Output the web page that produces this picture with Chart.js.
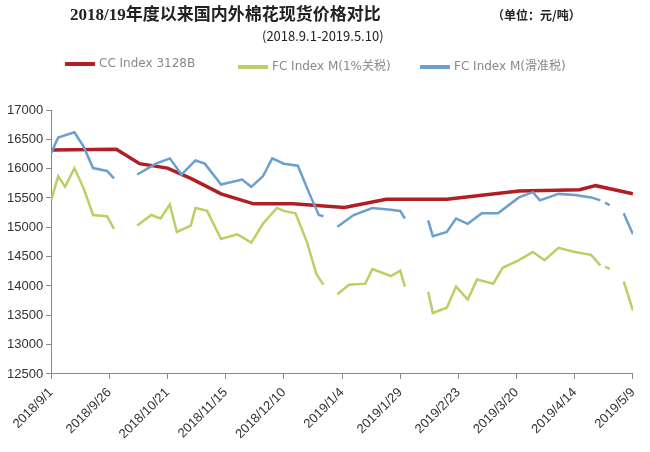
<!DOCTYPE html>
<html>
<head>
<meta charset="utf-8">
<script src="https://cdn.jsdelivr.net/npm/chart.js@4"></script>
<style>
  body { margin: 0; background: #fff; font-family: "Noto Sans CJK SC", "DejaVu Sans", sans-serif; }
  #wrap { position: relative; width: 650px; height: 452px; }
  canvas { position: absolute; left: 0; top: 0; }
  .t { position: absolute; color: #222; white-space: nowrap; }
  .leg { position: absolute; top: 56px; font-size: 12px; color: #888; font-family: "DejaVu Sans", "Noto Sans CJK SC", sans-serif; }
  .leg i { display: inline-block; width: 30px; height: 4px; vertical-align: middle; margin-right: 4px; }
</style>
</head>
<body>
<div id="wrap">
  <canvas id="chart" width="650" height="452"></canvas>
  <div class="t" style="left:70px;top:0px;font-size:17px;font-weight:bold;font-family:'Liberation Serif','Noto Sans CJK SC',serif">2018/19年度以来国内外棉花现货价格对比</div>
  <div class="t" style="left:492px;top:6px;font-size:12px;font-weight:bold">（单位：元/吨）</div>
  <div class="t" style="left:262px;top:26px;font-size:13px">(2018.9.1-2019.5.10)</div>
  <div class="leg" style="left:65px"><i style="background:#b01f24"></i>CC Index 3128B</div>
  <div class="leg" style="left:238px"><i style="background:#b8d064"></i>FC Index M(1%关税)</div>
  <div class="leg" style="left:420px"><i style="background:#6a9fd0"></i>FC Index M(滑准税)</div>
</div>
<script>
// days since 2018/9/1, null = gap in the series
const ccDays = [0, 28, 38, 50, 60, 73, 87, 104, 126, 144, 170, 201, 227, 234, 250];
const ccVals = [16320, 16330, 16085, 16010, 15835, 15570, 15400, 15400, 15340, 15480, 15480, 15620, 15640, 15710, 15570];

const slideDays = [0, 3, 10, 14, 18, 24, 27, 32, 37, 45, 51, 56, 62, 66, 73, 82, 86, 91, 95, 100, 106, 111, 115, 117, 120,
  123, 130, 138, 146, 150, 152, 157, 162, 164, 170, 174, 179, 185, 192, 201, 207, 210, 218, 225, 232, 236, 237,
  238, 240, 242, 246, 250];
const slideVals = [16265, 16530, 16620, 16370, 16010, 15960, 15835, null, 15900, 16085, 16175, 15900, 16140, 16085, 15730, 15815, 15690, 15870, 16175, 16085, 16050, 15570, 15210, 15190, null,
  15010, 15210, 15330, 15300, 15280, 15150, null, 15120, 14850, 14920, 15150, 15060, 15240, 15240, 15510, 15600, 15460, 15570, 15550, 15510, 15460, null,
  15420, 15380, null, 15240, 14880];

const tariffDays = [0, 3, 6, 10, 14, 18, 24, 27, 32, 37, 43, 47, 51, 54, 60, 62, 67, 73, 80, 86, 91, 97, 100, 105, 110, 114, 117, 120,
  123, 128, 135, 138, 146, 150, 152, 157, 162, 164, 170, 174, 179, 183, 190, 194, 201, 207, 212, 218, 225, 232, 236, 237,
  238, 240, 242, 246, 250];
const tariffVals = [15460, 15870, 15690, 16010, 15660, 15210, 15190, 14975, null, 15030, 15210, 15150, 15390, 14920, 15030, 15330, 15280, 14800, 14880, 14740, 15060, 15330, 15280, 15240, 14740, 14200, 14020, null,
  13860, 14020, 14040, 14290, 14170, 14260, 13990, null, 13900, 13540, 13630, 13990, 13770, 14110, 14040, 14310, 14440, 14580, 14440, 14650, 14580, 14530, 14350, null,
  14330, 14290, null, 14080, 13580];

const yTicks = [12500, 17000, 500];

function pts(days, vals) {
  return days.map((d, i) => ({ x: d, y: vals[i] }));
}
function dateLabel(v) {
  const d = new Date(2018, 8, 1 + v);
  return d.getFullYear() + '/' + (d.getMonth() + 1) + '/' + d.getDate();
}

const ctx = document.getElementById('chart').getContext('2d');
new Chart(ctx, {
  type: 'line',
  data: {
    datasets: [
      { label: 'FC Index M(1%关税)', data: pts(tariffDays, tariffVals), borderColor: '#b8d064', borderWidth: 2.5 },
      { label: 'FC Index M(滑准税)', data: pts(slideDays, slideVals), borderColor: '#6a9fd0', borderWidth: 2.5 },
      { label: 'CC Index 3128B', data: pts(ccDays, ccVals), borderColor: '#b01f24', borderWidth: 3.5 }
    ]
  },
  options: {
    responsive: false,
    animation: false,
    spanGaps: false,
    elements: { point: { radius: 0 }, line: { tension: 0 } },
    layout: { padding: { top: 110, right: 14, left: 4, bottom: 4 } },
    plugins: { legend: { display: false }, tooltip: { enabled: false } },
    scales: {
      x: {
        type: 'linear', min: 0, max: 250,
        ticks: { stepSize: 25, maxRotation: 45, minRotation: 45, color: '#333', font: { size: 13 }, padding: 6, callback: dateLabel },
        grid: { drawOnChartArea: false, tickLength: 5, color: '#888' },
        border: { color: '#888' }
      },
      y: {
        min: yTicks[0], max: yTicks[1],
        ticks: { stepSize: yTicks[2], color: '#333', font: { size: 13 }, callback: v => String(v) },
        grid: { drawOnChartArea: false, tickLength: 5, color: '#888' },
        border: { color: '#888' }
      }
    }
  }
});
</script>
</body>
</html>
